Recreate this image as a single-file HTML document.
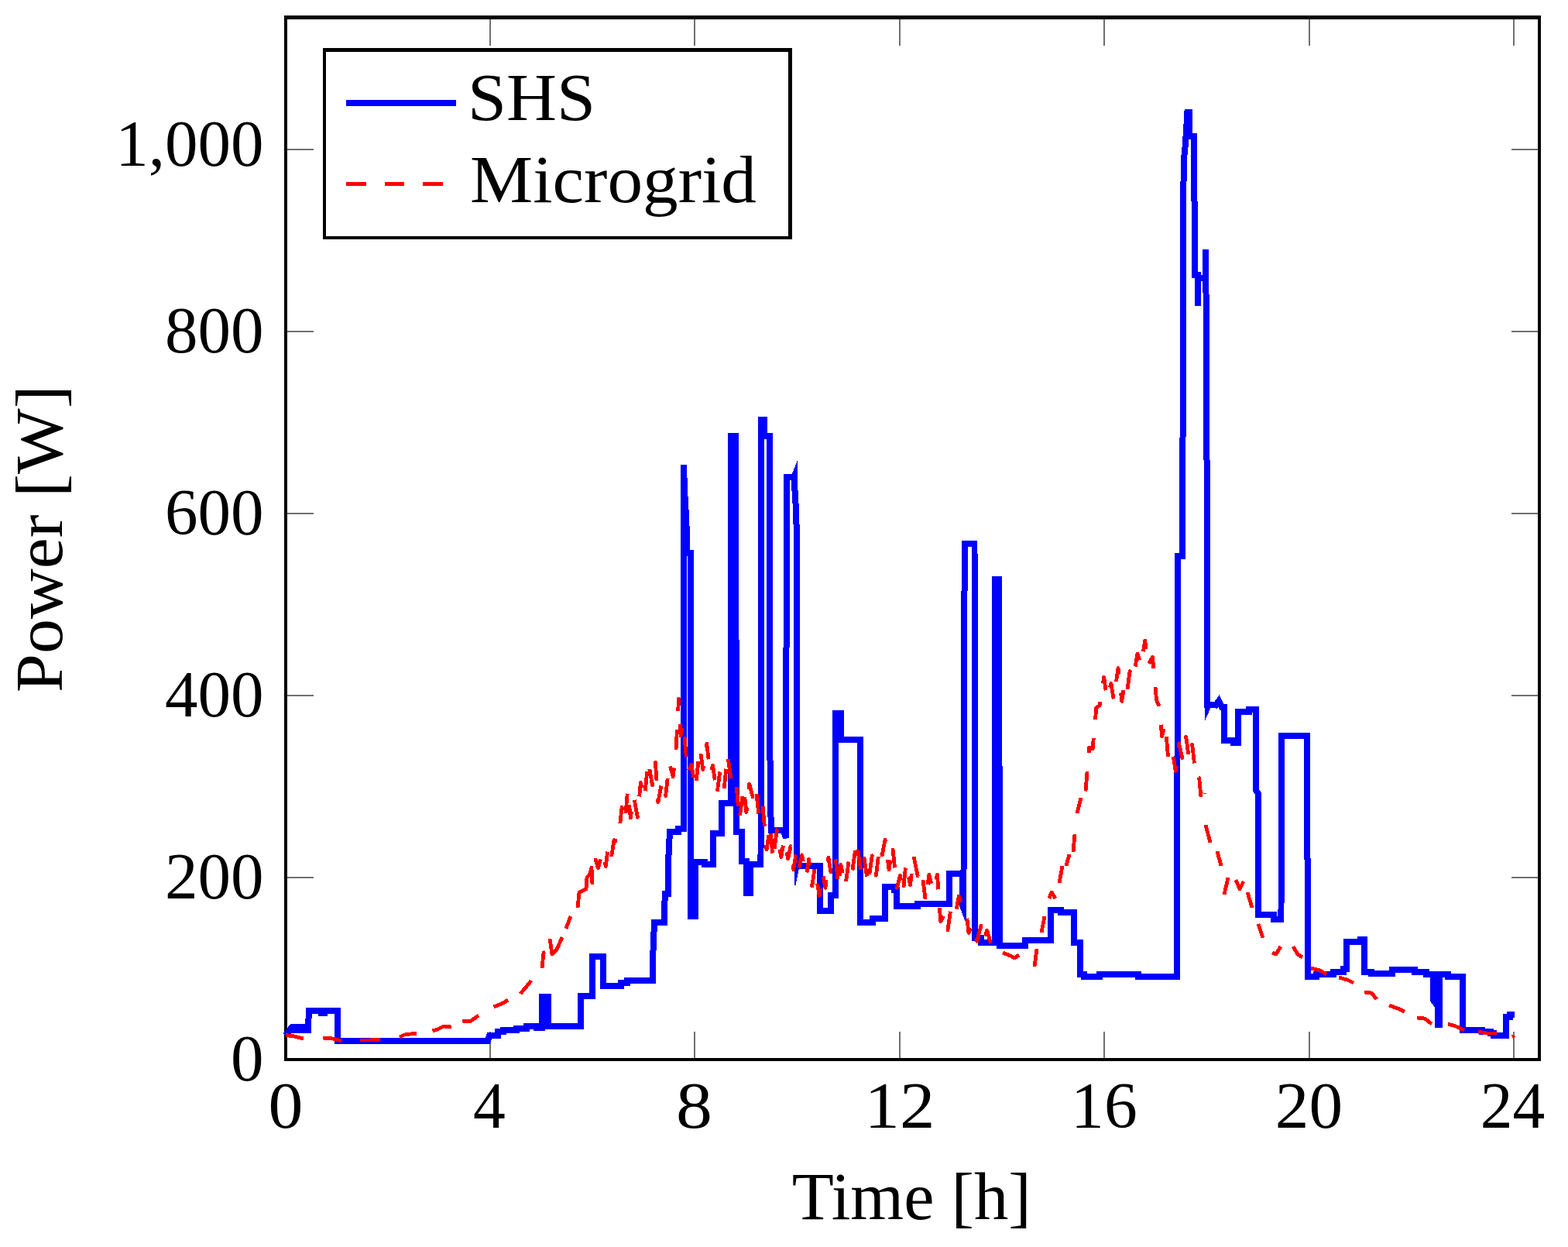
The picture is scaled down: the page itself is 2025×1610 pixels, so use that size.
<!DOCTYPE html>
<html><head><meta charset="utf-8"><title>Power plot</title>
<style>html,body{margin:0;padding:0;background:#fff;}svg{display:block;}</style>
</head><body>
<svg width="2025" height="1610" viewBox="0 0 2025 1610">
<rect width="2025" height="1610" fill="#fff"/>
<path d="M633 1366V1332M633 25V58.7M897 1366V1332M897 25V58.7M1162 1366V1332M1162 25V58.7M1426 1366V1332M1426 25V58.7M1691 1366V1332M1691 25V58.7M1955 1366V1332M1955 25V58.7M371 1133H405M1986 1133H1952M371 898H405M1986 898H1952M371 663H405M1986 663H1952M371 428H405M1986 428H1952M371 193H405M1986 193H1952" stroke="#707070" stroke-width="2" fill="none" shape-rendering="crispEdges"/>
<path d="M367 20H1990V1370H367ZM371 25V1366H1986V25Z" fill="#000" fill-rule="evenodd" shape-rendering="crispEdges"/>
<polygon points="376,1322 402,1322 402,1334 376,1334" fill="#00f" shape-rendering="crispEdges"/>
<polygon points="411,1304 423,1304 423,1311.8 411,1311.8" fill="#00f" shape-rendering="crispEdges"/>
<polygon points="1022.7,612 1029.6,595.2 1030.4,595.2 1030.4,620 1022.7,620" fill="#00f" shape-rendering="crispEdges"/>
<polygon points="1025.5,1114 1033.3,1114 1027.6,1142.6 1025.5,1142.6" fill="#00f" shape-rendering="crispEdges"/>
<polygon points="1239,1131 1248,1131 1248,1193 1239,1170" fill="#00f" shape-rendering="crispEdges"/>
<polygon points="1555.5,906 1563.5,906 1563.5,914 1556.3,930 1555.5,930" fill="#00f" shape-rendering="crispEdges"/>
<polyline points="368,1337 372,1333 374,1330 377,1326 398,1326 399,1305 436,1305 436,1344 630,1344 632,1337 643,1337 643,1332 650,1332 650,1329.6 667,1329.6 667,1327.5 680,1327.5 680,1325 693,1325 693,1327 700,1327 700,1286.5 708,1286.5 708,1324.5 750,1324.5 750,1285.5 765,1285.5 765,1234.5 779,1234.5 779,1273 802,1273 802,1269 810,1269 810,1266 843,1266 843,1240 845,1191 858,1191 858,1172 859,1154 863,1154 863,1114 865,1073.5 876,1073.5 876,1070 883,1070 882.9,604 883.1,604 884,632 886,667 887,690 887,714 892,714 892.5,1182.6 898,1182.6 898,1112.7 910,1112.7 910,1116 921,1116 921,1076 932,1076 932,1037 944,1037 944.5,563 950,563 951,1074 958,1074 958,1112 964,1112 964,1153 969,1153 969,1116 982.5,1116 983.2,542 986.5,542 986.5,563 993.8,563 994.6,1036 996.3,1072 1012,1072 1015,1082 1016,616 1025.5,616 1027.5,650 1029,690 1029.5,1118 1059,1118 1059,1176 1073,1176 1073,1156 1079,1156 1079,921 1086,921 1086,955 1111,955 1111,1191 1127,1191 1127,1186 1143,1186 1143,1145 1155,1145 1155,1149 1158,1149 1158,1170 1185,1170 1185,1166.5 1226,1166.5 1226,1127.7 1237,1128 1244.5,1128 1245.7,702 1258.5,702 1259,1210.6 1267,1210.6 1267,1216.5 1285,1216.5 1285,748 1290,748 1291,1220.5 1324,1220.5 1324,1213.5 1357,1213.5 1357,1174.5 1370,1174.5 1370,1177.8 1387,1177.8 1387,1217 1395,1217 1395,1258 1400,1258 1400,1261.4 1420,1261.4 1420,1258.4 1470,1258.4 1470,1261.4 1520,1261.4 1521,718 1527,718 1528,420 1528,265 1529,205 1531,185 1533.4,145 1536,145 1536.5,176 1541.8,176 1542.8,293 1543,355 1547,355 1547,394.5 1547,359 1557,359 1557,322 1558,433 1559.5,910 1570,910.5 1574,905 1578,913 1581,913 1581,956 1593,956 1593,959 1599,959 1599,919 1613,919 1613,915.5 1622,915.5 1622,1020 1625,1025 1625.5,1181 1645,1181 1645,1186.6 1654.5,1186.6 1654.8,949.5 1673,949.5 1673,950 1688,950 1689,1261 1700,1261 1700,1258 1722,1258 1722,1254.5 1735,1254.5 1735,1250.8 1738.5,1250.8 1738.5,1215.7 1757,1215.7 1757,1212.5 1762,1212.5 1762,1254.5 1771,1254.5 1771,1257 1798,1257 1798,1252 1827,1252 1827,1254.8 1842,1254.8 1842,1258 1850.8,1258 1850.8,1291 1857.2,1300 1857.2,1322.7 1858.6,1322.7 1858.6,1258 1870,1258 1870,1261.2 1889,1261.2 1889,1329.8 1914,1329.8 1914,1331.7 1925,1331.7 1925,1334 1929,1334 1929,1336.7 1944.7,1336.7 1944.7,1313 1950,1313 1950,1310 1955.9,1310" fill="none" stroke="#00f" stroke-width="8" stroke-linejoin="miter" stroke-miterlimit="4" shape-rendering="crispEdges"/>
<path d="M369 1336.5 L380 1338 L392 1341M417 1340 L430 1341 L441.5 1344M465 1343 L478 1343 L491 1342M516 1339 L522 1336 L530 1335 L538 1334.5M558.5 1331 L565 1329 L573 1325 L583 1326M597 1318 L607 1319 L618 1311M637.5 1300 L645 1297 L650 1295 L656 1291M672 1283 L679 1275 L686 1266M700 1250 L702 1230 L704 1229M710 1212 L713 1232 L719 1226 L726 1210M731 1199 L737 1183M746 1172 L748 1152 L757 1148 L758 1133 L762 1128 L764 1120 L765 1142M1295 1230 L1305 1234 L1310 1237 L1316 1233M1336 1248 L1339 1225M1345 1204 L1349 1183M1355 1160 L1358 1152 L1363 1160M1368 1140 L1372 1118M1377 1118 L1381 1103M1386 1100 L1388 1077M1391 1050 L1396 1030M1557 1065 L1563 1088M1572 1099 L1577 1118M1581 1155 L1586 1133M1596 1136 L1601 1148 L1606 1138M1611 1152 L1617 1172M1625 1193 L1631 1211M1643 1230 L1648 1232 L1654 1222M1670 1222 L1676 1232 L1682 1236M1693 1250 L1705 1253 L1713 1258M1729 1262 L1740 1265 L1748 1269M1762 1281 L1771 1282 L1778 1290M1794 1298 L1805 1302 L1814 1306M1830 1314 L1840 1315 L1849 1322M1870 1322 L1880 1325 L1891 1330M1909 1332 L1920 1334 L1933 1334M1953 1339 L1955.5 1337" fill="none" stroke="#f00" stroke-width="4.8" stroke-linejoin="round" stroke-linecap="butt" shape-rendering="crispEdges"/>
<polyline points="768.7,1108.1 772.4,1121 778.1,1099.2 782.3,1118.6 785.6,1091.9 789.5,1106.8 793,1084.8 798.4,1085.8 803.1,1042.2 807.2,1060 810.6,1019.8 814.3,1055.9 818.6,1028.4 823.3,1055.2 827.3,1010.4 832.3,1031.2 837,982.6 842.5,1013.9 846.4,984 849.9,1035.6 855.1,1007.7 859.6,1027.4 864.5,985.4 869.2,1002.9 873,968 876.5,902 879,950 882.4,933.5 888.1,997.4 893,987 898.1,1017.9 903.9,965.9 907.8,993.6 912.8,960.2 917.2,999.1 920.6,988.2 925.8,1026.4 929.7,996.2 935.2,1018.7 939.5,974.5 945.1,1012.5 950.5,1006.9 954.8,1059.1 960.4,1016.4 963.9,1048.7 967.7,1012 972.1,1028.8 976,1014.8 980.3,1056.6 985,1040.4 990,1097.2 994.8,1065.4 998.1,1110.5 1003.4,1071.6 1008.7,1106.6 1012.9,1084.1 1017.7,1108.9 1021.1,1092.6 1024.7,1122.6 1028,1101.9 1031.5,1122.2 1035.6,1103.9 1041.2,1131.1 1044.7,1109.2 1048.8,1144.1 1052.3,1119.5 1058.1,1156.5 1062.6,1127.4 1066,1146.3 1069.9,1107.3 1073.4,1129.1 1079.2,1108.3 1082.7,1144.8 1085.9,1116.5 1091.7,1144.3 1096.8,1106.8 1100.9,1124 1106.1,1085.8 1111.4,1121.1 1115.1,1101.3 1120.9,1142.2 1126.3,1104.9 1131.4,1130.3 1136,1091.9 1139.2,1104 1143.1,1083.9 1148.1,1123 1152.5,1090.9 1158.3,1146.6 1162.4,1130.3 1166.2,1153.1 1169.9,1114.6 1175.5,1142.8 1179.9,1105.1 1185.2,1131 1190.2,1122.2 1195.4,1163.7 1199.9,1129 1205.1,1149.8 1210.5,1129.4 1214.7,1189.8 1220.4,1179.5 1224,1200.7 1227.5,1176.6 1232.9,1186.3 1238.3,1157 1243.2,1174 1247.8,1176 1251,1204.5 1255.9,1193.4 1261.6,1215.2 1267.1,1194.9 1270.8,1213.6 1274.7,1201.2 1279.5,1218" fill="none" stroke="#f00" stroke-width="4.8" stroke-linejoin="round" stroke-linecap="butt" shape-rendering="crispEdges" stroke-dasharray="25.5 24"/>
<polyline points="1402,1021.5 1406.7,965 1411.1,966.6 1415.8,914 1420.3,910.6 1425.6,874.2 1429.6,901 1434.9,882.3 1438.2,903 1444,862.6 1448.8,905.4 1452,883.7 1455.3,894.8 1459.1,866.5 1463.5,875.9 1468.9,844 1473.8,858.5 1478.7,827.1 1482.6,859.4 1488.5,848 1493.5,903.8 1497.3,912.5 1500.6,950.8 1504.9,934.2 1509,982.6 1514.5,971.4 1518.2,995.5 1522.6,959.8 1526.8,978.6 1531.7,951.3 1535.6,979.6 1539.6,961 1544.8,1005.6 1548.6,1004 1551.9,1038.7 1555.6,1023.9" fill="none" stroke="#f00" stroke-width="4.8" stroke-linejoin="round" stroke-linecap="butt" shape-rendering="crispEdges" stroke-dasharray="25.5 24"/>
<rect x="421" y="67" width="597" height="238" fill="#fff"/>
<path d="M417 62H1023V309H417ZM421 67V305H1018V67Z" fill="#000" fill-rule="evenodd" shape-rendering="crispEdges"/>
<rect x="447" y="129" width="142" height="8" fill="#00f"/>
<path d="M447 235h26v5h-26zM497 235h25v5h-25zM546 235h26v5h-26z" fill="#f00"/>
<text x="604" y="155" font-size="87" font-family="Liberation Serif, serif" fill="#000" textLength="165" lengthAdjust="spacingAndGlyphs">SHS</text>
<text x="607" y="260.7" font-size="87" font-family="Liberation Serif, serif" fill="#000" textLength="370" lengthAdjust="spacingAndGlyphs">Microgrid</text>
<text x="369.0" y="1455.5" font-size="85" font-family="Liberation Serif, serif" fill="#000" text-anchor="middle" textLength="44.9" lengthAdjust="spacingAndGlyphs">0</text>
<text x="631.9" y="1455.5" font-size="85" font-family="Liberation Serif, serif" fill="#000" text-anchor="middle" textLength="41.8" lengthAdjust="spacingAndGlyphs">4</text>
<text x="896.4" y="1455.5" font-size="85" font-family="Liberation Serif, serif" fill="#000" text-anchor="middle" textLength="47.0" lengthAdjust="spacingAndGlyphs">8</text>
<text x="1162.0" y="1455.5" font-size="85" font-family="Liberation Serif, serif" fill="#000" text-anchor="middle" textLength="90.8" lengthAdjust="spacingAndGlyphs">12</text>
<text x="1425.9" y="1455.5" font-size="85" font-family="Liberation Serif, serif" fill="#000" text-anchor="middle" textLength="85.6" lengthAdjust="spacingAndGlyphs">16</text>
<text x="1690.4" y="1455.5" font-size="85" font-family="Liberation Serif, serif" fill="#000" text-anchor="middle" textLength="87.2" lengthAdjust="spacingAndGlyphs">20</text>
<text x="1953.4" y="1455.5" font-size="85" font-family="Liberation Serif, serif" fill="#000" text-anchor="middle" textLength="83.5" lengthAdjust="spacingAndGlyphs">24</text>
<text x="340.5" y="1395.2" font-size="85" font-family="Liberation Serif, serif" fill="#000" text-anchor="end">0</text>
<text x="340.5" y="1160.2" font-size="85" font-family="Liberation Serif, serif" fill="#000" text-anchor="end">200</text>
<text x="340.5" y="925.2" font-size="85" font-family="Liberation Serif, serif" fill="#000" text-anchor="end">400</text>
<text x="340.5" y="690.1" font-size="85" font-family="Liberation Serif, serif" fill="#000" text-anchor="end">600</text>
<text x="340.5" y="455.1" font-size="85" font-family="Liberation Serif, serif" fill="#000" text-anchor="end">800</text>
<text x="340.5" y="214.4" font-size="85" font-family="Liberation Serif, serif" fill="#000" text-anchor="end">1,000</text>
<text x="1022.8" y="1573.8" font-size="87" font-family="Liberation Serif, serif" fill="#000" textLength="309" lengthAdjust="spacingAndGlyphs">Time [h]</text>
<text transform="translate(80.1 893.9) rotate(-90)" x="0" y="0" font-size="87" font-family="Liberation Serif, serif" fill="#000" textLength="396.6" lengthAdjust="spacingAndGlyphs">Power [W]</text>
</svg>
</body></html>
